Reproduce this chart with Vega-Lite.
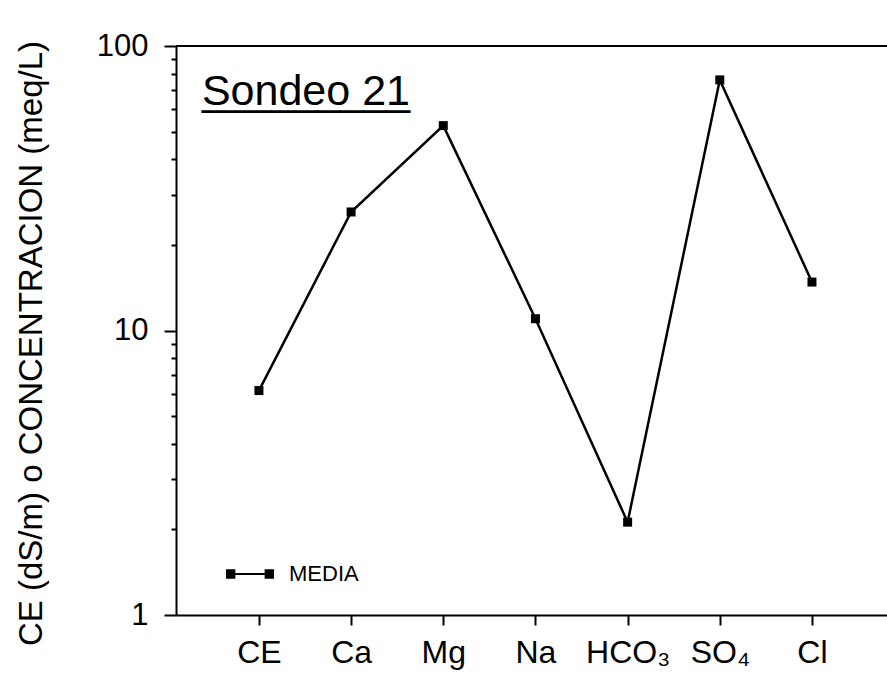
{
  "$schema": "https://vega.github.io/schema/vega-lite/v6.json",
  "autosize": {"type": "none"},
  "width": 711,
  "height": 569,
  "padding": {"left": 176, "top": 46, "right": 0, "bottom": 64},
  "background": "white",
  "config": {
    "font": "Liberation Sans",
    "view": {"stroke": null},
    "axis": {"domainColor": "black", "tickColor": "black", "labelColor": "black", "titleColor": "black", "domainWidth": 2, "tickWidth": 2, "grid": false}
  },
  "data": {
    "values": [
      {"ion": "CE", "valor": 6.15, "serie": "MEDIA"},
      {"ion": "Ca", "valor": 26.1, "serie": "MEDIA"},
      {"ion": "Mg", "valor": 52.5, "serie": "MEDIA"},
      {"ion": "Na", "valor": 11.0, "serie": "MEDIA"},
      {"ion": "HCO₃", "valor": 2.12, "serie": "MEDIA"},
      {"ion": "SO₄", "valor": 76.0, "serie": "MEDIA"},
      {"ion": "Cl", "valor": 14.8, "serie": "MEDIA"}
    ]
  },
  "layer": [
    {
      "mark": {"type": "line", "strokeWidth": 2.5, "point": {"shape": "square", "size": 81, "filled": true, "color": "black"}},
      "encoding": {
        "x": {
          "field": "ion", "type": "nominal", "sort": null,
          "scale": {"type": "point", "padding": 0.857, "align": 0.525},
          "axis": {"title": null, "labelFontSize": 32, "labelAngle": 0, "labelAlign": "center", "tickSize": 10, "labelPadding": 12}
        },
        "y": {
          "field": "valor", "type": "quantitative",
          "scale": {"type": "log", "domain": [1, 100], "nice": false},
          "axis": {
            "title": "CE (dS/m) o CONCENTRACION (meq/L)",
            "titleFontSize": 33, "titleFontWeight": "normal", "titlePadding": 48, "titleY": 297,
            "values": [1, 2, 3, 4, 5, 6, 7, 8, 9, 10, 20, 30, 40, 50, 60, 70, 80, 90, 100],
            "labelExpr": "(datum.value == 1 || datum.value == 10 || datum.value == 100) ? format(datum.value, 'd') : ''",
            "labelFontSize": 31, "labelPadding": 16,
            "tickSize": {"condition": {"test": "datum.value == 1 || datum.value == 10 || datum.value == 100", "value": 12}, "value": 5}
          }
        },
        "color": {
          "field": "serie", "type": "nominal",
          "scale": {"range": ["black"]},
          "legend": {
            "title": null, "orient": "none", "legendX": 50, "legendY": 504, "padding": 0,
            "labelFontSize": 22, "labelOffset": 15,
            "symbolType": "M-1,-0.16H-0.68V0.16H-1Z M0.68,-0.16H1V0.16H0.68Z M-0.68,0H0.68",
            "symbolSize": 2116, "symbolStrokeWidth": 2, "symbolFillColor": "black", "symbolStrokeColor": "black"
          }
        }
      }
    },
    {
      "mark": {"type": "rule", "color": "black", "strokeWidth": 2},
      "encoding": {"y": {"datum": 100, "type": "quantitative"}}
    },
    {
      "data": {"values": [{"titulo": "Sondeo 21", "subrayado": "_________"}]},
      "mark": {"type": "text", "fontSize": 43, "align": "left", "baseline": "alphabetic", "dx": -57, "color": "black"},
      "encoding": {"x": {"datum": "CE", "type": "nominal"}, "y": {"datum": 62, "type": "quantitative"}, "text": {"field": "titulo"}}
    },
    {
      "data": {"values": [{"titulo": "Sondeo 21", "subrayado": "_________"}]},
      "mark": {"type": "text", "fontSize": 41.6, "align": "left", "baseline": "alphabetic", "dx": -57, "color": "black"},
      "encoding": {"x": {"datum": "CE", "type": "nominal"}, "y": {"datum": 62, "type": "quantitative"}, "text": {"field": "subrayado"}}
    }
  ]
}
